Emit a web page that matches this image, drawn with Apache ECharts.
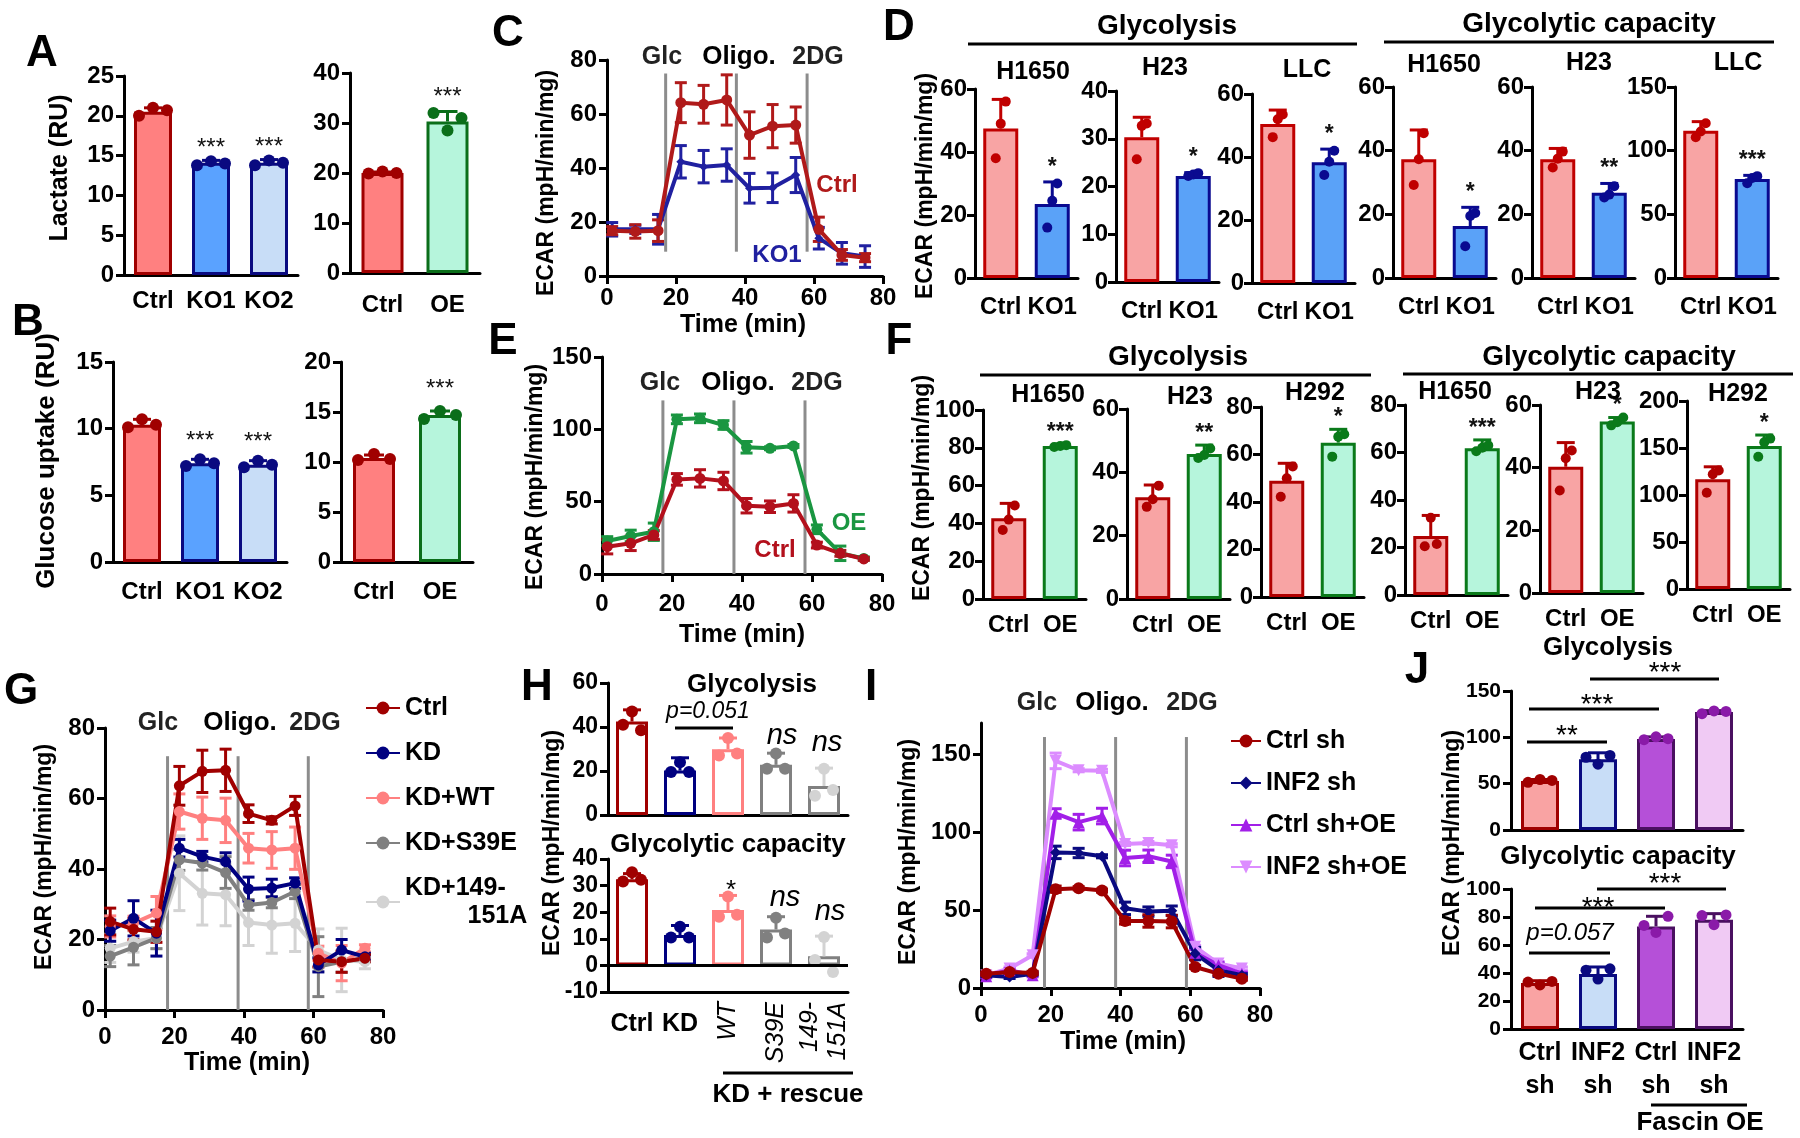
<!DOCTYPE html>
<html>
<head>
<meta charset="utf-8">
<script src="https://cdn.jsdelivr.net/npm/echarts@6/dist/echarts.min.js"></script>
<style>
  html, body { margin: 0; padding: 0; background: #fff; }
  #fig { width: 1800px; height: 1138px; }
</style>
</head>
<body>
<div id="fig"></div>
<script>
// ---------------- data ----------------
// A: lactate
const catsKO = ['Ctrl', 'KO1', 'KO2'];
const catsOE = ['Ctrl', 'OE'];
const lactKO = [20.5, 14.1, 14.1];
const lactKOReps = [[20.0, 21.0, 20.7], [13.8, 14.3, 14.0], [13.8, 14.4, 14.1]];
const lactKOErr = [21.0, 14.4, 14.5];
const lactOE = [20.0, 30.3];
const lactOEReps = [[19.9, 20.3, 20.0], [32.0, 28.5, 31.0]];
const lactOEErr = [20.2, 32.3];
// B: glucose uptake
const gluKO = [10.3, 7.4, 7.3];
const gluKOReps = [[10.1, 10.7, 10.3], [7.2, 7.7, 7.4], [7.1, 7.6, 7.3]];
const gluKOErr = [10.7, 7.7, 7.6];
const gluOE = [10.4, 14.7];
const gluOEReps = [[10.2, 10.8, 10.3], [14.3, 15.1, 14.7]];
const gluOEErr = [10.7, 15.1];
const starsKO = ['', '***', '***'];
const starsOE = ['', '***'];

// seahorse time points (min)
const minutes = [1.5, 8.2, 14.8, 21.4, 28, 34.7, 41.3, 48, 54.7, 61.4, 68.1, 74.8];

// C: ECAR ctrl vs KO1
const cCtrl = [16.8, 16.5, 16.8, 64.2, 63.6, 65.2, 52.2, 55.5, 55.9, 17.3, 7.8, 6.8];
const cCtrlSd = [1.5, 2.5, 4, 7.4, 7, 9.3, 8.6, 8, 6.7, 4.5, 2, 1.5];
const cKO = [17.3, 17.3, 17.3, 42.3, 40.5, 41.1, 32.5, 32.7, 37.4, 14, 8.4, 7.2];
const cKOSd = [2.5, 1.5, 5.5, 6, 6, 6, 5.5, 5.5, 6.5, 4, 4, 4];
const cInject = [17, 37.5, 58];

// D: glycolysis / glycolytic capacity, KO
const catsD = ['Ctrl', 'KO1'];
const dCells = ['H1650', 'H23', 'LLC', 'H1650', 'H23', 'LLC'];
const dMeans = [[47.5, 23.5], [30.3, 22.2], [50.5, 38.3], [37.3, 16.3], [37.3, 26.8], [115.7, 77.7]];
const dReps = [
  [[38, 49, 56], [16, 24.5, 30]],
  [[25.7, 32.7, 33.2], [22.2, 22.5, 22.8]],
  [[46.3, 52, 53.5], [34.3, 38.5, 42]],
  [[29.2, 37.3, 45.5], [10, 19.5, 20.4]],
  [[34.7, 37.5, 39.7], [25.3, 26.2, 28.8]],
  [[110.5, 115, 121.5], [74.5, 78.5, 80]]
];
const dErr = [[56.7, 30.5], [34.5, 22.9], [54.9, 42.5], [46.5, 22.2], [40.7, 29.7], [122.8, 80.6]];
const dStars = [['', '*'], ['', '*'], ['', '*'], ['', '*'], ['', '**'], ['', '***']];
const dMax = [60, 40, 60, 60, 60, 150];
const dStep = [20, 10, 20, 20, 20, 50];

// E: ECAR ctrl vs OE
const eCtrl = [18.9, 21.2, 27, 65.4, 66.1, 64.3, 47.2, 46.5, 48.8, 20, 14.3, 10.4];
const eCtrlSd = [5, 5, 3, 4, 6, 6, 5, 4, 6, 2, 2, 1];
const eOE = [22.8, 26.3, 29.2, 106.9, 107.6, 103, 87.6, 86.9, 88.5, 30.9, 14.3, 10.8];
const eOESd = [3, 4, 6, 3, 3, 3, 4, 1, 1, 3, 5, 1];
const eInject = [17.4, 37.7, 58];

// F: glycolysis / glycolytic capacity, OE
const catsF = ['Ctrl', 'OE'];
const fCells = ['H1650', 'H23', 'H292', 'H1650', 'H23', 'H292'];
const fMeans = [[42.7, 80.9], [32.1, 45.8], [49, 65], [24.8, 61.8], [40.3, 54.7], [116.7, 152]];
const fReps = [
  [[36.5, 42, 49.5], [80.4, 81, 81.4]],
  [[29.1, 31.5, 35.8], [44.5, 45.5, 47.5]],
  [[42.2, 50, 55], [59.1, 67.5, 68.5]],
  [[20.5, 32.5, 21.5], [60.5, 62, 63]],
  [[32.7, 43, 45.5], [53.5, 54.5, 56]],
  [[102.4, 122, 126], [140.7, 156, 160]]
];
const fErr = [[50.6, 81.8], [36, 48.6], [56.3, 70.6], [33.5, 65.3], [48, 56], [130, 163.8]];
const fStars = [['', '***'], ['', '**'], ['', '*'], ['', '***'], ['', '*'], ['', '*']];
const fMax = [100, 60, 80, 80, 60, 200];
const fStep = [20, 20, 20, 20, 20, 50];

// G: rescue ECAR traces
const gCtrl = [25.1, 22.9, 22.2, 63.6, 67.7, 68.0, 55.7, 53.8, 57.9, 14.2, 13.7, 14.7];
const gCtrlSd = [3.8, 3, 3, 5.5, 6, 6, 2.5, 1, 2.7, 2, 3, 1];
const gKD = [22.5, 26.0, 21.8, 45.9, 43.5, 42.1, 34.3, 34.6, 36.0, 12.8, 17.0, 15.1];
const gKDSd = [3, 5, 6.5, 2.5, 1.5, 2.5, 3.4, 2.5, 1.5, 2, 3, 1];
const gWT = [23.7, 24.6, 27.5, 56.3, 54.4, 53.8, 45.9, 45.4, 45.9, 16.1, 13.3, 17.5];
const gWTSd = [3, 2, 4.7, 5, 6, 6.3, 4.2, 5.2, 6, 2, 5, 1];
const gS39E = [15.3, 17.8, 20.4, 42.6, 41.7, 39.0, 29.8, 30.5, 33.6, 12.3, 13.7, 14.7];
const gS39ESd = [3, 5, 3, 3, 2, 4.5, 1.5, 1.5, 2, 8.5, 3, 1];
const gMut = [17.5, 19.4, 20.4, 38.8, 33.1, 32.7, 24.8, 24.1, 24.6, 17.0, 14.2, 13.7];
const gMutSd = [4, 3, 3, 10.6, 9, 8.8, 6.5, 8, 8, 6, 9, 2];
const gInject = [18, 38.3, 58.5];

// H: rescue bars
const catsH = ['Ctrl', 'KD', 'WT', 'S39E', '149-\n151A'];
const hGly = [42.5, 20.2, 29.9, 22.8, 13.2];
const hGlyReps = [[41, 47, 38.5], [19.5, 24, 19.5], [27, 35, 28], [21, 28, 21], [8.7, 21, 11.4]];
const hGlyErr = [47.8, 26, 35, 28.1, 21.3];
const hCap = [32.4, 11.4, 20.8, 13.5, 3.4];
const hCapReps = [[31.5, 35, 32.2], [10.5, 14.5, 10.5], [18.3, 25.9, 19], [10.5, 17.9, 12], [2, 10.7, -2.5]];
const hCapErr = [34.5, 15, 26.3, 18.3, 11];

// I: INF2 / fascin ECAR traces
const iCtrl = [9.2, 10.3, 9.7, 63.4, 64.0, 62.5, 43.0, 43.0, 42.6, 13.5, 9.2, 6.0];
const iCtrlSd = [1, 1, 1, 2, 1, 1, 2, 4, 4, 1, 1, 1];
const iINF2 = [8.2, 7.1, 9.2, 87.0, 86.6, 84.5, 51.1, 49.0, 49.6, 22.1, 11.4, 8.2];
const iINF2Sd = [1, 1, 1, 4, 3, 1, 4, 3, 3, 4, 4, 1];
const iCtrlOE = [7.5, 11.4, 8.2, 112, 106.4, 110.3, 83.4, 84.5, 81.2, 22.6, 14.6, 9.2];
const iCtrlOESd = [1, 1, 1, 3, 5, 5, 5, 4, 4, 2, 2, 1];
const iINF2OE = [8.2, 12.5, 21.0, 145.7, 139.7, 139.3, 92.4, 93.0, 91.6, 26.4, 15.7, 12.5];
const iINF2OESd = [1, 1, 1, 5, 1, 1, 1, 1, 1, 1, 1, 1];
const iInject = [18.2, 38.6, 58.9];

// J: INF2 / fascin bars
const catsJ = ['Ctrl\nsh', 'INF2\nsh', 'Ctrl\nsh', 'INF2\nsh'];
const jGly = [52.8, 76.4, 98.3, 127.4];
const jGlyReps = [[51.5, 54.5, 53.5], [78.5, 71, 80.5], [97.5, 100.5, 98.5], [125.5, 128.5, 128]];
const jGlyErr = [54.5, 83.3, 100.5, 128.8];
const jCap = [32.9, 39.3, 73.3, 78.1];
const jCapReps = [[33.5, 31.5, 34], [42, 35.7, 43], [74, 69, 80.5], [81, 74.5, 81.5]];
const jCapErr = [34.5, 44.3, 80.5, 82.4];

// ---------------- styling ----------------
const FONT = "'Liberation Sans', Arial, Helvetica, sans-serif";
const RED = '#a00000', NAVY = '#0a0a80', GREEN = '#0b6e1a';

const grids = [], xAxes = [], yAxes = [], series = [], graphics = [];

function yVal(gi, min, max, step, size, margin) {
  return {
    type: 'value', gridIndex: gi, min: min, max: max, interval: step,
    axisLine: {show: true, onZero: false, lineStyle: {color: '#000', width: 3}},
    axisTick: {show: true, length: 8, lineStyle: {color: '#000', width: 3}},
    axisLabel: {color: '#000', fontFamily: FONT, fontWeight: 'bold', fontSize: size, margin: margin || 10},
    splitLine: {show: false}
  };
}

function barPlot(p) {
  const gi = grids.length, xi = xAxes.length, yi = yAxes.length;
  grids.push({left: p.left, top: p.top, width: p.width, height: p.height, containLabel: false});
  xAxes.push({
    type: 'category', gridIndex: gi, data: p.cats,
    axisLine: {onZero: false, lineStyle: {color: '#000', width: 3}},
    axisTick: {alignWithLabel: true, length: 8, lineStyle: {color: '#000', width: 3}},
    axisLabel: {show: p.showX !== false, interval: 0, color: '#000', fontFamily: FONT, fontWeight: 'bold',
      fontSize: p.xSize || p.size, margin: p.xMargin, lineHeight: (p.xSize || p.size) + 8,
      formatter: p.xFormatter},
    splitLine: {show: false}
  });
  yAxes.push(yVal(gi, p.min || 0, p.max, p.step, p.size, p.yMargin));
  const bar = {
    type: 'bar', xAxisIndex: xi, yAxisIndex: yi, barWidth: p.barWidth, silent: true,
    data: p.means.map((v, i) => ({value: v, itemStyle: {color: p.fill[i], borderColor: p.stroke[i], borderWidth: 3}}))
  };
  if (p.zeroLine) {
    bar.markLine = {symbol: 'none', silent: true, label: {show: false},
      lineStyle: {color: '#000', width: 3, type: 'solid'}, data: [{yAxis: 0}]};
  }
  series.push(bar);
  const errCol = p.errColor || p.stroke;
  series.push({
    type: 'custom', xAxisIndex: xi, yAxisIndex: yi, silent: true, z: 3,
    data: p.means.map((v, i) => [i, v, p.err[i]]),
    renderItem: function (params, api) {
      const i = api.value(0);
      const a = api.coord([i, api.value(1)]);
      const b = api.coord([i, api.value(2)]);
      const kids = [
        {type: 'line', shape: {x1: a[0], y1: a[1], x2: b[0], y2: b[1]}, style: {stroke: errCol[i], lineWidth: 3}},
        {type: 'line', shape: {x1: b[0] - p.cap, y1: b[1], x2: b[0] + p.cap, y2: b[1]}, style: {stroke: errCol[i], lineWidth: 3}}
      ];
      const s = p.stars && p.stars[i];
      if (s) {
        kids.push({type: 'text', x: b[0], y: b[1] - p.starGap,
          style: {text: s, align: 'center', verticalAlign: 'bottom', font: p.starFont, fill: '#111'}});
      }
      return {type: 'group', children: kids};
    }
  });
  series.push({
    type: 'custom', xAxisIndex: xi, yAxisIndex: yi, silent: true, z: 4,
    data: p.reps.flatMap((arr, i) => arr.map((v, k) => [i, v, k])),
    renderItem: function (params, api) {
      const i = api.value(0), k = api.value(2);
      const c = api.coord([i, api.value(1)]);
      return {type: 'circle', shape: {cx: c[0] + (k - 1) * p.jitter, cy: c[1], r: p.dotR}, style: {fill: p.dot[i]}};
    }
  });
  return gi;
}

function linePlot(p) {
  const gi = grids.length, xi = xAxes.length, yi = yAxes.length;
  grids.push({left: p.left, top: p.top, width: p.width, height: p.height, containLabel: false});
  xAxes.push({
    type: 'value', gridIndex: gi, min: 0, max: 80, interval: 20,
    axisLine: {onZero: false, lineStyle: {color: '#000', width: 3}},
    axisTick: {length: 8, lineStyle: {color: '#000', width: 3}},
    axisLabel: {color: '#000', fontFamily: FONT, fontWeight: 'bold', fontSize: p.size, margin: p.xMargin},
    splitLine: {show: false}
  });
  const y = yVal(gi, 0, p.yMax, p.yStep, p.size);
  if (p.yTicks) {
    y.axisLabel.customValues = p.yTicks;
    y.axisTick.customValues = p.yTicks;
  }
  yAxes.push(y);
  series.push({
    type: 'custom', xAxisIndex: xi, yAxisIndex: yi, silent: true, z: 1,
    data: p.inject.map(t => [t, p.injLo, p.injHi]),
    renderItem: function (params, api) {
      const a = api.coord([api.value(0), api.value(1)]);
      const b = api.coord([api.value(0), api.value(2)]);
      return {type: 'line', shape: {x1: a[0], y1: a[1], x2: b[0], y2: b[1]}, style: {stroke: '#8c8c8c', lineWidth: 3}};
    }
  });
  p.lines.forEach(s => {
    series.push({
      type: 'line', name: s.name, xAxisIndex: xi, yAxisIndex: yi, silent: true, z: 2,
      data: minutes.map((t, i) => [t, s.values[i]]),
      symbol: s.symbol || 'circle', symbolSize: s.symSize || 11, symbolRotate: s.rotate || 0,
      lineStyle: {color: s.color, width: 4}, itemStyle: {color: s.color}
    });
    series.push({
      type: 'custom', xAxisIndex: xi, yAxisIndex: yi, silent: true, z: 2,
      data: minutes.map((t, i) => [t, s.values[i], s.sd[i]]),
      renderItem: function (params, api) {
        const t = api.value(0), m = api.value(1), d = api.value(2);
        const hi = api.coord([t, m + d]), lo = api.coord([t, m - d]);
        const w = 6;
        return {type: 'group', children: [
          {type: 'line', shape: {x1: hi[0], y1: hi[1], x2: lo[0], y2: lo[1]}, style: {stroke: s.color, lineWidth: 3}},
          {type: 'line', shape: {x1: hi[0] - w, y1: hi[1], x2: hi[0] + w, y2: hi[1]}, style: {stroke: s.color, lineWidth: 3}},
          {type: 'line', shape: {x1: lo[0] - w, y1: lo[1], x2: lo[0] + w, y2: lo[1]}, style: {stroke: s.color, lineWidth: 3}}
        ]};
      }
    });
  });
  return gi;
}

function text(x, y, str, size, o) {
  o = o || {};
  graphics.push({
    type: 'text', x: x, y: y, rotation: o.rot || 0, z: 100, silent: true,
    style: {
      text: str, fill: o.color || '#000',
      font: (o.italic ? 'italic ' : '') + (o.weight || 'bold') + ' ' + size + 'px ' + FONT,
      align: 'center', verticalAlign: 'middle'
    }
  });
}
function rule(x1, y1, x2, y2) {
  graphics.push({type: 'line', z: 100, silent: true, shape: {x1: x1, y1: y1, x2: x2, y2: y2}, style: {stroke: '#000', lineWidth: 3}});
}
const UP = Math.PI / 2;

// ---------------- panel A / B ----------------
const thinStar = 'normal 24px ' + FONT;
barPlot({left: 124, top: 76, width: 174, height: 199, cats: catsKO, means: lactKO, reps: lactKOReps, err: lactKOErr,
  max: 25, step: 5, size: 24, xMargin: 10, barWidth: 38, cap: 9, jitter: 14, dotR: 6,
  fill: ['#ff8080', '#5aa2ff', '#c8ddf7'], stroke: [RED, NAVY, NAVY], dot: [RED, NAVY, NAVY],
  stars: starsKO, starFont: thinStar, starGap: 0});
barPlot({left: 350, top: 73, width: 130, height: 200, cats: catsOE, means: lactOE, reps: lactOEReps, err: lactOEErr,
  max: 40, step: 10, size: 24, xMargin: 16, barWidth: 42, cap: 10, jitter: 14, dotR: 6,
  fill: ['#ff8080', '#b6f5dc'], stroke: [RED, GREEN], dot: [RED, GREEN],
  stars: starsOE, starFont: thinStar, starGap: 2});
barPlot({left: 113, top: 362, width: 174, height: 200, cats: catsKO, means: gluKO, reps: gluKOReps, err: gluKOErr,
  max: 15, step: 5, size: 24, xMargin: 14, barWidth: 38, cap: 9, jitter: 14, dotR: 6,
  fill: ['#ff8080', '#5aa2ff', '#c8ddf7'], stroke: [RED, NAVY, NAVY], dot: [RED, NAVY, NAVY],
  stars: starsKO, starFont: thinStar, starGap: 6});
barPlot({left: 341, top: 362, width: 132, height: 200, cats: catsOE, means: gluOE, reps: gluOEReps, err: gluOEErr,
  max: 20, step: 5, size: 24, xMargin: 14, barWidth: 42, cap: 10, jitter: 16, dotR: 6,
  fill: ['#ff8080', '#b6f5dc'], stroke: [RED, GREEN], dot: [RED, GREEN],
  stars: starsOE, starFont: thinStar, starGap: 10});

// ---------------- panel C / E ----------------
linePlot({left: 607, top: 60, width: 276, height: 216, yMax: 80, yStep: 20, size: 24, xMargin: 10,
  inject: cInject, injLo: 9, injHi: 75,
  lines: [
    {name: 'C KO1', values: cKO, sd: cKOSd, color: '#2020a0', symbol: 'diamond', symSize: 9},
    {name: 'C Ctrl', values: cCtrl, sd: cCtrlSd, color: '#b01a1a'}
  ]});
linePlot({left: 602, top: 357, width: 280, height: 217, yMax: 150, yStep: 50, size: 24, xMargin: 18,
  inject: eInject, injLo: 0, injHi: 120,
  lines: [
    {name: 'E OE', values: eOE, sd: eOESd, color: '#1a9641'},
    {name: 'E Ctrl', values: eCtrl, sd: eCtrlSd, color: '#b3101c'}
  ]});

// ---------------- panel D / F ----------------
const starBold = 'bold 23px ' + FONT;
const dLeft = [975, 1116, 1252, 1393, 1532, 1675];
const dTop = [89, 91, 94, 87, 87, 87];
const dBottom = [278, 282, 283, 278, 278, 278];
dMeans.forEach((m, k) => {
  barPlot({left: dLeft[k], top: dTop[k], width: 103, height: dBottom[k] - dTop[k], cats: catsD, means: m,
    reps: dReps[k], err: dErr[k], max: dMax[k], step: dStep[k], size: 24, xMargin: 13, yMargin: 8,
    barWidth: 35, cap: 9, jitter: 5, dotR: 5,
    fill: ['#f8a4a4', '#5aa2f8'], stroke: ['#c00000', '#0a0a90'], dot: ['#c00000', '#0a0a90'],
    stars: dStars[k], starFont: starBold, starGap: 3});
});
const fLeft = [983, 1127, 1261, 1405, 1540, 1687];
const fTop = [410, 409, 407, 405, 405, 401];
const fBottom = [599, 599, 597, 595, 593, 589];
fMeans.forEach((m, k) => {
  barPlot({left: fLeft[k], top: fTop[k], width: 103, height: fBottom[k] - fTop[k], cats: catsF, means: m,
    reps: fReps[k], err: fErr[k], max: fMax[k], step: fStep[k], size: 24, xMargin: 10, yMargin: 8,
    barWidth: 35, cap: 9, jitter: 6, dotR: 5,
    fill: ['#f8a4a4', '#b6f5dc'], stroke: ['#b00000', '#0a7a1a'], dot: ['#b00000', '#0a7a1a'],
    stars: fStars[k], starFont: starBold, starGap: 0});
});

// ---------------- panel G / I ----------------
linePlot({left: 105, top: 728, width: 278, height: 282, yMax: 80, yStep: 20, size: 24, xMargin: 15,
  inject: gInject, injLo: 0, injHi: 72,
  lines: [
    {name: 'KD+149-151A', values: gMut, sd: gMutSd, color: '#d3d3d3'},
    {name: 'KD+S39E', values: gS39E, sd: gS39ESd, color: '#808080'},
    {name: 'KD+WT', values: gWT, sd: gWTSd, color: '#ff8080'},
    {name: 'KD', values: gKD, sd: gKDSd, color: '#000080'},
    {name: 'Ctrl', values: gCtrl, sd: gCtrlSd, color: '#a00000'}
  ]});
linePlot({left: 981, top: 723, width: 279, height: 265, yMax: 170, yStep: 50, yTicks: [0, 50, 100, 150], size: 24, xMargin: 15,
  inject: iInject, injLo: 0, injHi: 161,
  lines: [
    {name: 'INF2 sh+OE', values: iINF2OE, sd: iINF2OESd, color: '#dc8cff', symbol: 'triangle', rotate: 180, symSize: 12},
    {name: 'Ctrl sh+OE', values: iCtrlOE, sd: iCtrlOESd, color: '#a21fe8', symbol: 'triangle', symSize: 12},
    {name: 'INF2 sh', values: iINF2, sd: iINF2Sd, color: '#0a0a80', symbol: 'diamond', symSize: 11},
    {name: 'Ctrl sh', values: iCtrl, sd: iCtrlSd, color: '#a00000', symSize: 12}
  ]});

// ---------------- panel H ----------------
const hStroke = ['#a00000', '#000080', '#ff8080', '#808080', '#808080'];
const hDot = ['#a00000', '#000080', '#ff8080', '#808080', '#d3d3d3'];
barPlot({left: 608, top: 683, width: 240, height: 132, cats: catsH, means: hGly, reps: hGlyReps, err: hGlyErr,
  max: 60, step: 20, size: 23, showX: false, xMargin: 10, barWidth: 32, cap: 9, jitter: 9, dotR: 6,
  fill: ['#fff', '#fff', '#fff', '#fff', '#fff'], stroke: hStroke, dot: hDot, errColor: hDot});
const hBottom = barPlot({left: 608, top: 859, width: 240, height: 133, cats: catsH, means: hCap, reps: hCapReps, err: hCapErr,
  min: -10, max: 40, step: 10, size: 23, xSize: 25, xMargin: 16, barWidth: 32, cap: 9, jitter: 9, dotR: 6,
  xFormatter: (v, i) => (i < 2 ? v : ''), zeroLine: true,
  fill: ['#fff', '#fff', '#fff', '#fff', '#fff'], stroke: hStroke, dot: hDot, errColor: hDot});
xAxes.push({
  type: 'category', gridIndex: hBottom, data: catsH, position: 'bottom',
  axisLine: {show: false}, axisTick: {show: false}, splitLine: {show: false},
  axisLabel: {interval: 0, rotate: 90, color: '#000', fontFamily: FONT, fontStyle: 'italic', fontWeight: 'normal',
    fontSize: 25, lineHeight: 28, margin: 10, formatter: (v, i) => (i < 2 ? '' : v)}
});

// ---------------- panel J ----------------
const jFill = ['#f9a3a3', '#c8ddf7', '#b550d8', '#f0caf4'];
const jStroke = ['#a00000', '#0a0a80', '#4a1060', '#4a1060'];
const jDot = ['#a00000', '#0a0a80', '#8a1aa8', '#8a1aa8'];
barPlot({left: 1511, top: 691, width: 232, height: 139, cats: catsJ, means: jGly, reps: jGlyReps, err: jGlyErr,
  max: 150, step: 50, size: 21, showX: false, xMargin: 8, barWidth: 38, cap: 10, jitter: 12, dotR: 5.5,
  fill: jFill, stroke: jStroke, dot: jDot});
barPlot({left: 1511, top: 889, width: 232, height: 140, cats: catsJ, means: jCap, reps: jCapReps, err: jCapErr,
  max: 100, step: 20, size: 21, xSize: 25, xMargin: 8, barWidth: 38, cap: 10, jitter: 12, dotR: 5.5,
  fill: jFill, stroke: jStroke, dot: jDot});

// ---------------- annotations ----------------
[['A', 42, 54], ['B', 28, 323], ['C', 508, 34], ['D', 899, 28], ['E', 503, 342], ['F', 899, 342],
 ['G', 21, 692], ['H', 537, 688], ['I', 871, 688], ['J', 1417, 671]].forEach(l => text(l[1], l[2], l[0], 44));

text(60, 168, 'Lactate (RU)', 25, {rot: UP});
text(47, 461, 'Glucose uptake (RU)', 26, {rot: UP});
const ecar = 'ECAR (mpH/min/mg)';
[[547, 183], [926, 186], [536, 477], [923, 488], [45, 857], [553, 843], [909, 852], [1453, 843]]
  .forEach(a => text(a[0], a[1], ecar, 23, {rot: UP}));
[[743, 325], [742, 635], [247, 1063], [1123, 1042]].forEach(a => text(a[0], a[1], 'Time (min)', 25));

[[57, 662, 739, 818], [383, 660, 738, 817], [723, 158, 240, 315], [703, 1037, 1112, 1192]].forEach(a => {
  text(a[1], a[0], 'Glc', 25, {color: '#222'});
  text(a[2], a[0], 'Oligo.', 26);
  text(a[3], a[0], '2DG', 25, {color: '#222'});
});

text(837, 185, 'Ctrl', 24, {color: '#b01a1a'});
text(777, 255, 'KO1', 24, {color: '#2020a0'});
text(849, 523, 'OE', 24, {color: '#1a9641'});
text(775, 550, 'Ctrl', 24, {color: '#b3101c'});

text(1167, 26, 'Glycolysis', 28);
rule(968, 44, 1357, 44);
text(1589, 24, 'Glycolytic capacity', 28);
rule(1384, 42, 1774, 42);
[[1033, 72], [1165, 68], [1307, 70], [1444, 65], [1589, 63], [1738, 63]]
  .forEach((a, k) => text(a[0], a[1], dCells[k], 25));
text(1178, 357, 'Glycolysis', 28);
rule(980, 375, 1371, 375);
text(1609, 357, 'Glycolytic capacity', 28);
rule(1403, 374, 1793, 374);
[[1048, 395], [1190, 397], [1315, 393], [1455, 392], [1598, 392], [1738, 394]]
  .forEach((a, k) => text(a[0], a[1], fCells[k], 25));

text(752, 685, 'Glycolysis', 26);
text(708, 712, 'p=0.051', 23, {italic: true, weight: 'normal'});
rule(675, 728, 733, 728);
text(782, 736, 'ns', 29, {italic: true, weight: 'normal'});
text(827, 743, 'ns', 29, {italic: true, weight: 'normal'});
text(728, 845, 'Glycolytic capacity', 26);
text(731, 891, '*', 26, {weight: 'normal'});
text(785, 898, 'ns', 29, {italic: true, weight: 'normal'});
text(830, 912, 'ns', 29, {italic: true, weight: 'normal'});
text(788, 1095, 'KD + rescue', 26);
rule(723, 1073, 853, 1073);

text(1608, 648, 'Glycolysis', 26);
text(1567, 736, '**', 28, {weight: 'normal'});
rule(1527, 742, 1607, 742);
text(1597, 705, '***', 28, {weight: 'normal'});
rule(1529, 709, 1659, 709);
text(1665, 673, '***', 28, {weight: 'normal'});
rule(1590, 679, 1719, 679);
text(1618, 857, 'Glycolytic capacity', 26);
text(1570, 933, 'p=0.057', 24, {italic: true, weight: 'normal'});
rule(1529, 953, 1610, 953);
text(1598, 908, '***', 28, {weight: 'normal'});
rule(1535, 908, 1665, 908);
text(1665, 884, '***', 28, {weight: 'normal'});
rule(1597, 889, 1726, 889);
text(1700, 1123, 'Fascin OE', 26);
rule(1651, 1105, 1747, 1105);

// ---------------- chart ----------------
const legendText = {fontFamily: FONT, fontWeight: 'bold', fontSize: 25, color: '#000', lineHeight: 28};
const chart = echarts.init(document.getElementById('fig'), null, {renderer: 'canvas'});
chart.setOption({
  backgroundColor: '#fff',
  animation: false,
  textStyle: {fontFamily: FONT},
  grid: grids,
  xAxis: xAxes,
  yAxis: yAxes,
  legend: [
    {orient: 'vertical', left: 360, top: 689, itemWidth: 34, itemHeight: 16, itemGap: 17, selectedMode: false,
      textStyle: legendText, data: ['Ctrl', 'KD', 'KD+WT', 'KD+S39E', 'KD+149-151A'],
      formatter: n => (n === 'KD+149-151A' ? 'KD+149-\n         151A' : n)},
    {orient: 'vertical', left: 1225, top: 722, itemWidth: 30, itemHeight: 16, itemGap: 14, selectedMode: false,
      textStyle: legendText, data: ['Ctrl sh', 'INF2 sh', 'Ctrl sh+OE', 'INF2 sh+OE']}
  ],
  series: series,
  graphic: graphics
});
</script>
</body>
</html>
